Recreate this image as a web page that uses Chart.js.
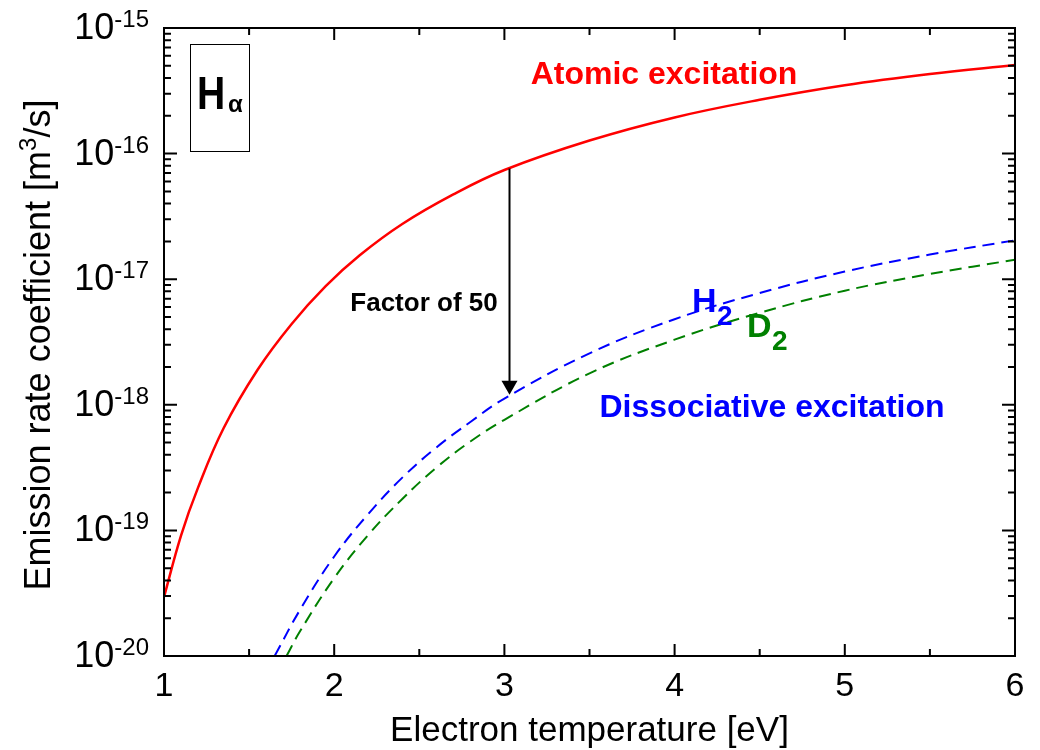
<!DOCTYPE html>
<html>
<head>
<meta charset="utf-8">
<script src="https://cdn.jsdelivr.net/npm/chart.js@4.4.1/dist/chart.umd.min.js"></script>
<style>
  html, body { margin: 0; padding: 0; background: #fff; }
  #wrap { width: 1040px; height: 750px; }
</style>
</head>
<body>
<div id="wrap"><canvas id="rateChart" width="1040" height="750"></canvas></div>
<script>
// electron temperature [eV] and emission rate coefficient [m^3/s]
const atomicTemp = [1.0, 1.1, 1.2, 1.35, 1.55, 1.75, 1.95, 2.15, 2.4, 2.7, 3.0, 3.5, 4.0, 4.5, 5.0, 5.5, 6.0];
const atomicRate = [2.95e-20, 9.1e-20, 2.19e-19, 6.5e-19, 1.9e-18, 4.4e-18, 8.8e-18, 1.55e-17, 2.75e-17, 4.73e-17, 7.4e-17, 1.27e-16, 1.94e-16, 2.68e-16, 3.5e-16, 4.3e-16, 5.07e-16];

const h2Temp = [1.65, 1.8, 2.0, 2.2, 2.4, 2.6, 2.8, 3.0, 3.5, 4.0, 4.5, 5.0, 5.5, 6.0];
const h2Rate = [1.0e-20, 2.34e-20, 6.2e-20, 1.35e-19, 2.63e-19, 4.57e-19, 7.3e-19, 1.12e-18, 2.57e-18, 4.8e-18, 7.76e-18, 1.15e-17, 1.57e-17, 2.04e-17];

const d2Temp = [1.72, 1.8, 2.0, 2.2, 2.4, 2.6, 2.8, 3.0, 3.5, 4.0, 4.5, 5.0, 5.5, 6.0];
const d2Rate = [1.0e-20, 1.58e-20, 4.17e-20, 9.2e-20, 1.78e-19, 3.16e-19, 5.1e-19, 7.6e-19, 1.78e-18, 3.3e-18, 5.4e-18, 8.1e-18, 1.1e-17, 1.43e-17];

const xTicks = [1, 2, 3, 4, 5, 6];
const xMinorTicks = [1.5, 2.5, 3.5, 4.5, 5.5];
const yTickExps = [-20, -19, -18, -17, -16, -15];

// "factor of 50" arrow: temperature, start (on atomic curve), tip (on H2 curve)
const arrowTemp = 3.03;
const arrowFrom = 7.6e-17;
const arrowTo = 1.2e-18;

const FONT = '"Liberation Sans", Arial, Helvetica, sans-serif';

const toPoints = (xs, ys) => xs.map((x, i) => ({ x: x, y: ys[i] }));

function txt(ctx, s, x, y, font, color, align, base) {
  ctx.font = font;
  ctx.fillStyle = color;
  ctx.textAlign = align || 'left';
  ctx.textBaseline = base || 'alphabetic';
  ctx.fillText(s, x, y);
}

const framePlugin = {
  id: 'frame',
  afterDatasetsDraw(chart) {
    const { ctx, chartArea: a, scales: { x, y } } = chart;
    ctx.save();

    // arrow
    const ax = x.getPixelForValue(arrowTemp);
    const ay0 = y.getPixelForValue(arrowFrom);
    const ay1 = y.getPixelForValue(arrowTo);
    ctx.strokeStyle = '#000';
    ctx.lineWidth = 2;
    ctx.beginPath();
    ctx.moveTo(ax, ay0);
    ctx.lineTo(ax, ay1 - 12);
    ctx.stroke();
    ctx.fillStyle = '#000';
    ctx.beginPath();
    ctx.moveTo(ax - 8, ay1 - 14);
    ctx.lineTo(ax + 8, ay1 - 14);
    ctx.lineTo(ax, ay1);
    ctx.closePath();
    ctx.fill();

    // frame
    ctx.lineWidth = 2;
    ctx.strokeStyle = '#000';
    ctx.strokeRect(a.left, a.top, a.right - a.left, a.bottom - a.top);

    // inside ticks on all four sides
    ctx.beginPath();
    const xt = (v, len) => {
      const px = x.getPixelForValue(v);
      ctx.moveTo(px, a.bottom); ctx.lineTo(px, a.bottom - len);
      ctx.moveTo(px, a.top); ctx.lineTo(px, a.top + len);
    };
    const yt = (v, len) => {
      const py = y.getPixelForValue(v);
      ctx.moveTo(a.left, py); ctx.lineTo(a.left + len, py);
      ctx.moveTo(a.right, py); ctx.lineTo(a.right - len, py);
    };
    xTicks.forEach(v => xt(v, 12));
    xMinorTicks.forEach(v => xt(v, 7));
    yTickExps.forEach(e => {
      yt(Math.pow(10, e), 13);
      if (e < -15) {
        for (let k = 2; k <= 9; k++) yt(k * Math.pow(10, e), 7);
      }
    });
    ctx.stroke();

    // x tick labels
    xTicks.forEach(v => {
      txt(ctx, String(v), x.getPixelForValue(v), 687, '34px ' + FONT, '#000', 'center', 'middle');
    });

    // y tick labels: 10 with superscript exponent
    yTickExps.forEach(e => {
      const py = y.getPixelForValue(Math.pow(10, e));
      const sup = String(e);
      ctx.font = '24px ' + FONT;
      const w2 = ctx.measureText(sup).width;
      const right = a.left - 15;
      txt(ctx, '10', right - w2, py + 1, '36px ' + FONT, '#000', 'right', 'middle');
      txt(ctx, sup, right - w2, py - 1, '24px ' + FONT, '#000', 'left', 'alphabetic');
    });

    // axis titles
    txt(ctx, 'Electron temperature [eV]', (a.left + a.right) / 2, 731, '35px ' + FONT, '#000', 'center', 'middle');

    ctx.save();
    ctx.translate(40, (a.top + a.bottom) / 2 + 3);
    ctx.rotate(-Math.PI / 2);
    const p1 = 'Emission rate coefficient [m';
    const p3 = '/s]';
    ctx.font = '36px ' + FONT;
    const w1 = ctx.measureText(p1).width;
    const w3 = ctx.measureText(p3).width;
    ctx.font = '24px ' + FONT;
    const wSup = ctx.measureText('3').width;
    const start = -(w1 + wSup + w3) / 2;
    txt(ctx, p1, start, 0, '36px ' + FONT, '#000', 'left', 'middle');
    txt(ctx, '3', start + w1, -4, '24px ' + FONT, '#000', 'left', 'alphabetic');
    txt(ctx, p3, start + w1 + wSup, 0, '36px ' + FONT, '#000', 'left', 'middle');
    ctx.restore();

    // H-alpha box
    ctx.lineWidth = 1;
    ctx.strokeStyle = '#000';
    ctx.strokeRect(190.5, 44.5, 59, 107);
    ctx.save();
    ctx.translate(197, 109);
    ctx.scale(0.85, 1);
    txt(ctx, 'H', 0, 0, 'bold 46px ' + FONT, '#000', 'left', 'alphabetic');
    ctx.restore();
    txt(ctx, '\u03b1', 228, 112, 'bold 24px ' + FONT, '#000', 'left', 'alphabetic');

    // curve annotations
    txt(ctx, 'Atomic excitation', 664, 75, 'bold 32px ' + FONT, '#ff0000', 'center', 'middle');
    txt(ctx, 'Dissociative excitation', 772, 408, 'bold 32px ' + FONT, '#0000ff', 'center', 'middle');
    txt(ctx, 'Factor of 50', 424, 304, 'bold 26px ' + FONT, '#000', 'center', 'middle');

    txt(ctx, 'H', 692, 312, 'bold 34px ' + FONT, '#0000ff', 'left', 'alphabetic');
    txt(ctx, '2', 717, 325, 'bold 28px ' + FONT, '#0000ff', 'left', 'alphabetic');
    txt(ctx, 'D', 747, 337, 'bold 34px ' + FONT, '#008000', 'left', 'alphabetic');
    txt(ctx, '2', 772, 350, 'bold 28px ' + FONT, '#008000', 'left', 'alphabetic');

    ctx.restore();
  }
};

new Chart(document.getElementById('rateChart'), {
  type: 'line',
  data: {
    datasets: [
      {
        label: 'Atomic excitation',
        data: toPoints(atomicTemp, atomicRate),
        borderColor: '#ff0000',
        borderWidth: 2.5,
        pointRadius: 0,
        tension: 0.4,
        fill: false
      },
      {
        label: 'H2',
        data: toPoints(h2Temp, h2Rate),
        borderColor: '#0000ff',
        borderWidth: 2,
        borderDash: [12, 7],
        pointRadius: 0,
        tension: 0.4,
        fill: false
      },
      {
        label: 'D2',
        data: toPoints(d2Temp, d2Rate),
        borderColor: '#008000',
        borderWidth: 2,
        borderDash: [12, 7],
        pointRadius: 0,
        tension: 0.4,
        fill: false
      }
    ]
  },
  options: {
    responsive: false,
    animation: false,
    layout: { padding: { left: 164, right: 25, top: 28, bottom: 94 } },
    plugins: {
      legend: { display: false },
      tooltip: { enabled: false }
    },
    scales: {
      x: { type: 'linear', min: 1, max: 6, display: false },
      y: { type: 'logarithmic', min: 1e-20, max: 1e-15, display: false }
    }
  },
  plugins: [framePlugin]
});
</script>
</body>
</html>
